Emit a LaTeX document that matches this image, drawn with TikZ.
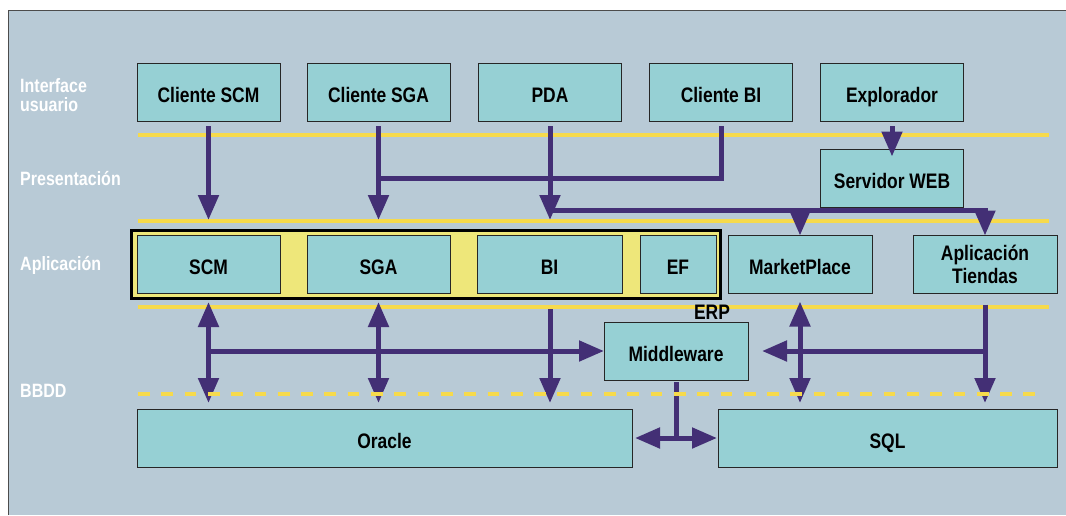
\documentclass[tikz,border=0pt]{standalone}
\usepackage{fontspec}
\setmainfont{Liberation Sans}[FakeStretch=0.83]
\usetikzlibrary{arrows.meta}
\definecolor{panelc}{HTML}{B8CAD6}
\definecolor{boxc}{HTML}{96D0D4}
\definecolor{ylw}{HTML}{F6DA4C}
\definecolor{erpc}{HTML}{EEE77A}
\definecolor{arrc}{HTML}{432F75}
\begin{document}
\begin{tikzpicture}[x=1pt, y=-1pt,
  box/.style={draw=black!85, line width=0.8pt, fill=boxc, inner sep=0pt, outer sep=0pt, minimum width=143pt, minimum height=58pt, text height=20pt, text depth=0pt, align=center, font=\fontsize{21}{23}\selectfont\bfseries},
  lbl/.style={anchor=west, inner sep=0pt, text=white, align=left, font=\fontsize{19.3}{19}\selectfont\bfseries},
  sep/.style={draw=ylw, line width=4pt},
  pline/.style={draw=arrc, line width=5pt},
  arr/.style={pline, -{Triangle[length=25pt,width=20pt]}},
  darr/.style={pline, {Triangle[length=25pt,width=20pt]}-{Triangle[length=25pt,width=20pt]}}]
\useasboundingbox (0,0) rectangle (1066,515);
\fill[panelc] (8,10) rectangle (1066,515);
\draw[black!70, line width=1pt] (8,515) -- (8,10) -- (1066,10);
% separators
\draw[sep] (138,135) -- (1049,135);
\draw[sep] (138,221) -- (1049,221);
\draw[sep] (138,307) -- (1049,307);
% interface usuario
\node[box] (cscm) at (208.5,92) {Cliente SCM};
\node[box] (csga) at (378.5,92) {Cliente SGA};
\node[box] (pda) at (550,92) {PDA};
\node[box] (cbi) at (721,92) {Cliente BI};
\node[box] (expl) at (892,92) {Explorador};
\node[box] (web) at (892,178.5) {Servidor WEB};
% aplicacion
\node[draw=black, line width=3pt, fill=erpc, inner sep=0pt, outer sep=0pt, minimum width=589pt, minimum height=68pt] (erp) at (426,264.5) {};
\node[box] (scm) at (208.5,264.5) {SCM};
\node[box] (sga) at (378.5,264.5) {SGA};
\node[box, minimum width=145pt] (bi) at (549.5,264.5) {BI};
\node[box, minimum width=76pt] (ef) at (678,264.5) {EF};
\node[box, minimum width=144pt] (mkt) at (800,264.5) {MarketPlace};
\node[box, minimum width=144pt, text height=38pt, text depth=0pt] (tiendas) at (985,264.5) {Aplicación\\Tiendas};
\node[box, minimum width=144pt] (mw) at (676,351) {Middleware};
% bbdd
\node[box, minimum width=495pt] (oracle) at (384.5,438) {Oracle};
\node[box, minimum width=339pt] (sql) at (887.5,438) {SQL};
\coordinate (jbi) at (378.5,178);
\coordinate (jweb) at (550,210.5);
\draw[arr, shorten <=5pt, shorten >=10.5pt] (cscm) -- (erp.north -| cscm);
\draw[arr, shorten <=5pt, shorten >=10.5pt] (csga) -- (erp.north -| csga);
\draw[arr, shorten <=5pt, shorten >=10.5pt] (pda) -- (erp.north -| pda);
\draw[pline, shorten <=5pt] (cbi) |- (jbi);
\draw[arr, shorten <=5pt, shorten >=-7pt] (expl) -- (web);
\draw[arr] (jweb) -| (tiendas);
\draw[arr] (jweb -| mkt) -- (mkt);
\draw[darr, shorten <=3.5pt, shorten >=6pt] (erp.south -| scm) -- (oracle.north -| scm);
\draw[darr, shorten <=3.5pt, shorten >=6pt] (erp.south -| sga) -- (oracle.north -| sga);
\draw[arr, shorten <=10.5pt, shorten >=6pt] (erp.south -| pda) -- (oracle.north -| pda);
\draw[darr, shorten <=8pt, shorten >=6pt] (mkt) -- (sql.north -| mkt);
\draw[arr, shorten <=11pt, shorten >=6pt] (tiendas) -- (sql.north -| tiendas);
\draw[arr] (scm |- mw) -- (mw);
\draw[arr, shorten >=14pt] (tiendas |- mw) -- (mw);
\draw[pline, shorten <=2pt] (mw) -- (mw |- oracle);
\draw[darr, shorten <=3pt, shorten >=1pt] (oracle) -- (sql);
\draw[ylw, line width=4pt, dash pattern=on 11.7pt off 11.6pt] (138,394) -- (1042,394);
\node[font=\fontsize{21}{23}\selectfont\bfseries] (erplbl) at (712,312) {ERP};
% capas
\node[lbl] (l1) at (20,95) {Interface\\usuario};
\node[lbl] (l2) at (20,179) {Presentación};
\node[lbl] (l3) at (20,265) {Aplicación};
\node[lbl] (l4) at (20,391) {BBDD};
\end{tikzpicture}
\end{document}
